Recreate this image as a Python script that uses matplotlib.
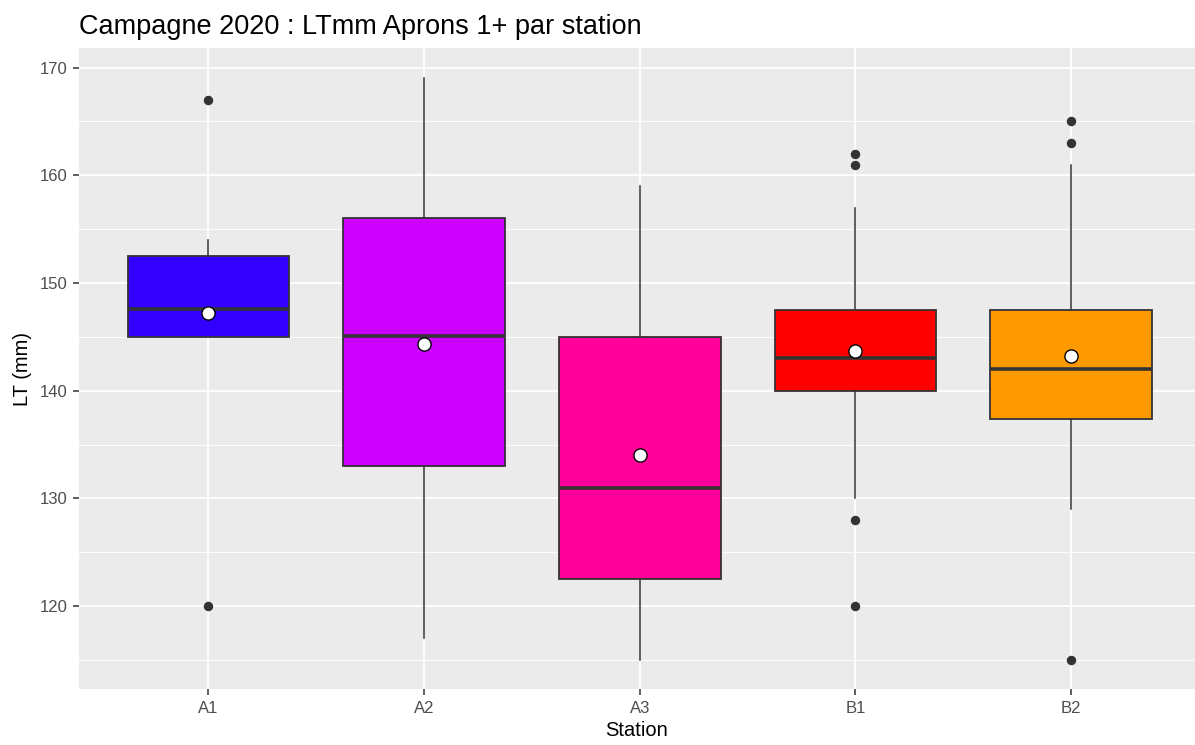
import matplotlib
matplotlib.use("Agg")
from matplotlib import pyplot as plt
from matplotlib.ticker import MultipleLocator

# values (LT in mm)
stations = ["A1", "A2", "A3", "B1", "B2"]
q1 = [145.0, 133.0, 122.5, 140.0, 137.4]
med = [147.6, 145.1, 131.0, 143.0, 142.0]
q3 = [152.5, 156.0, 145.0, 147.5, 147.5]
wlo = [145.0, 117.0, 115.0, 130.0, 129.0]
whi = [154.0, 169.0, 159.0, 157.0, 161.0]
outliers = [[167, 120], [], [], [162, 161, 128, 120], [165, 163, 115]]
means = [147.25, 144.3, 134.05, 143.7, 143.2]
fills = ["#3300FF", "#CC00FF", "#FF0099", "#FF0000", "#FF9900"]

plt.rcParams['font.family'] = ['Liberation Sans', 'DejaVu Sans']

fig = plt.figure(figsize=(11.95, 7.45), dpi=100)
ax = fig.add_axes([0.0661, 0.0752, 0.9339, 0.86])
ax.set_facecolor("#EBEBEB")

stats = []
for i in range(len(stations)):
    stats.append(dict(label=stations[i], q1=q1[i], med=med[i], q3=q3[i],
                      whislo=wlo[i], whishi=whi[i], fliers=outliers[i]))

pos = list(range(1, len(stations) + 1))
bp = ax.bxp(stats, positions=pos, widths=0.75, patch_artist=True,
            showcaps=False,
            boxprops=dict(edgecolor="#333333", linewidth=1.3),
            medianprops=dict(color="#333333", linewidth=2.6, solid_capstyle="butt"),
            whiskerprops=dict(color="#333333", linewidth=1.1),
            flierprops=dict(marker="o", markerfacecolor="#333333",
                            markeredgecolor="#333333", markersize=5.8),
            zorder=3)
for patch, c in zip(bp["boxes"], fills):
    patch.set_facecolor(c)

ax.scatter(pos, means, s=90, facecolor="white", edgecolor="black",
           linewidth=1.0, zorder=5)

ax.set_xlim(0.4, 5.574)
ax.set_ylim(112.3, 171.8)
ax.yaxis.set_major_locator(MultipleLocator(10))
ax.yaxis.set_minor_locator(MultipleLocator(5))
ax.grid(which="major", color="white", linewidth=1.3, zorder=0)
ax.grid(which="minor", axis="y", color="white", linewidth=0.65, zorder=0)
ax.set_axisbelow(True)
for s in ax.spines.values():
    s.set_visible(False)

ax.tick_params(axis="both", which="major", length=4.5, width=1.1, color="#333333",
               labelcolor="#4D4D4D", labelsize=12, pad=4)
ax.tick_params(axis="y", which="minor", length=0)
ax.set_xticks(pos)
ax.set_xticklabels(stations)

ax.set_xlabel("Station", fontsize=14.5, labelpad=4)
ax.set_ylabel("LT (mm)", fontsize=14.5, labelpad=5)
ax.set_title("Campagne 2020 : LTmm Aprons 1+ par station", fontsize=19.5,
             loc="left", pad=10)

fig.savefig("out.png", dpi=100)
